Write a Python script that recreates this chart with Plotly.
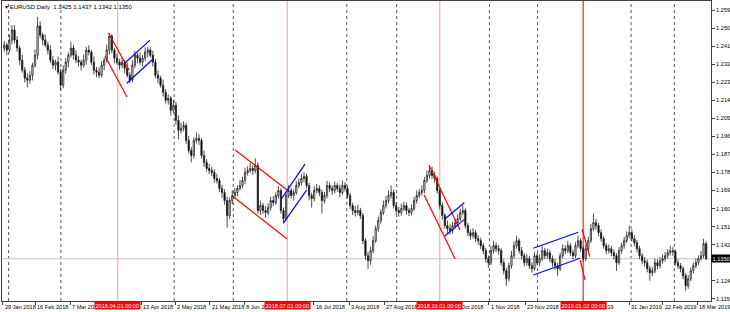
import plotly.graph_objects as go

# ---------------- data (EURUSD, Daily) ----------------
opens = [1.2400, 1.2415, 1.2390, 1.2440, 1.2490, 1.2440, 1.2400, 1.2340, 1.2290, 1.2250,
         1.2240, 1.2265, 1.2315, 1.2365, 1.2510, 1.2465, 1.2440, 1.2415, 1.2390, 1.2340,
         1.2315, 1.2330, 1.2280, 1.2215, 1.2290, 1.2330, 1.2365, 1.2400, 1.2365, 1.2340,
         1.2330, 1.2315, 1.2340, 1.2390, 1.2380, 1.2330, 1.2290, 1.2280, 1.2265, 1.2315,
         1.2340, 1.2390, 1.2460, 1.2390, 1.2350, 1.2330, 1.2315, 1.2330, 1.2300, 1.2265,
         1.2240, 1.2315, 1.2365, 1.2350, 1.2330, 1.2350, 1.2380, 1.2390, 1.2365, 1.2330,
         1.2265, 1.2250, 1.2215, 1.2180, 1.2140, 1.2150, 1.2090, 1.2115, 1.2040, 1.1990,
         1.2000, 1.2015, 1.1940, 1.1890, 1.1865, 1.1940, 1.1950, 1.1940, 1.1865, 1.1830,
         1.1800, 1.1790, 1.1780, 1.1750, 1.1740, 1.1700, 1.1680, 1.1640, 1.1565, 1.1640,
         1.1665, 1.1680, 1.1700, 1.1715, 1.1740, 1.1780, 1.1790, 1.1800, 1.1790, 1.1815,
         1.1590, 1.1615, 1.1590, 1.1580, 1.1605, 1.1640, 1.1630, 1.1665, 1.1690, 1.1590,
         1.1550, 1.1665, 1.1690, 1.1665, 1.1680, 1.1715, 1.1730, 1.1750, 1.1760, 1.1715,
         1.1665, 1.1650, 1.1690, 1.1700, 1.1680, 1.1640, 1.1665, 1.1715, 1.1700, 1.1690,
         1.1715, 1.1700, 1.1680, 1.1715, 1.1700, 1.1665, 1.1615, 1.1590, 1.1580, 1.1590,
         1.1565, 1.1440, 1.1365, 1.1340, 1.1390, 1.1440, 1.1500, 1.1540, 1.1580, 1.1615,
         1.1640, 1.1665, 1.1680, 1.1615, 1.1590, 1.1580, 1.1600, 1.1615, 1.1590, 1.1580,
         1.1600, 1.1640, 1.1665, 1.1680, 1.1690, 1.1740, 1.1765, 1.1790, 1.1765, 1.1750,
         1.1690, 1.1615, 1.1565, 1.1515, 1.1500, 1.1490, 1.1515, 1.1530, 1.1550, 1.1580,
         1.1590, 1.1515, 1.1480, 1.1465, 1.1480, 1.1450, 1.1440, 1.1415, 1.1390, 1.1350,
         1.1330, 1.1390, 1.1415, 1.1400, 1.1390, 1.1330, 1.1290, 1.1250, 1.1315, 1.1365,
         1.1415, 1.1440, 1.1390, 1.1365, 1.1330, 1.1350, 1.1315, 1.1300, 1.1365, 1.1330,
         1.1350, 1.1390, 1.1365, 1.1380, 1.1350, 1.1330, 1.1315, 1.1300, 1.1365, 1.1400,
         1.1390, 1.1415, 1.1380, 1.1365, 1.1415, 1.1440, 1.1400, 1.1350, 1.1400, 1.1440,
         1.1500, 1.1530, 1.1515, 1.1480, 1.1450, 1.1415, 1.1390, 1.1400, 1.1380, 1.1365,
         1.1330, 1.1390, 1.1415, 1.1440, 1.1465, 1.1480, 1.1450, 1.1430, 1.1400, 1.1365,
         1.1340, 1.1330, 1.1300, 1.1280, 1.1290, 1.1330, 1.1315, 1.1340, 1.1350, 1.1365,
         1.1380, 1.1390, 1.1385, 1.1330, 1.1315, 1.1300, 1.1265, 1.1215, 1.1250, 1.1290,
         1.1315, 1.1330, 1.1350, 1.1365, 1.1425]

highs = [1.2435, 1.2427, 1.2468, 1.2515, 1.2514, 1.2460, 1.2412, 1.2368, 1.2306, 1.2274,
         1.2285, 1.2327, 1.2393, 1.2555, 1.2534, 1.2477, 1.2468, 1.2431, 1.2414, 1.2360,
         1.2342, 1.2358, 1.2296, 1.2314, 1.2350, 1.2377, 1.2430, 1.2416, 1.2389, 1.2360,
         1.2342, 1.2368, 1.2406, 1.2414, 1.2392, 1.2358, 1.2306, 1.2304, 1.2335, 1.2352,
         1.2418, 1.2475, 1.2470, 1.2402, 1.2372, 1.2346, 1.2350, 1.2342, 1.2328, 1.2281,
         1.2339, 1.2385, 1.2377, 1.2378, 1.2366, 1.2404, 1.2405, 1.2402, 1.2387, 1.2346,
         1.2289, 1.2262, 1.2243, 1.2196, 1.2170, 1.2162, 1.2143, 1.2131, 1.2064, 1.2028,
         1.2035, 1.2027, 1.1962, 1.1906, 1.1954, 1.1980, 1.1972, 1.1952, 1.1889, 1.1846,
         1.1822, 1.1808, 1.1796, 1.1774, 1.1752, 1.1718, 1.1696, 1.1660, 1.1655, 1.1690,
         1.1702, 1.1716, 1.1743, 1.1758, 1.1802, 1.1812, 1.1828, 1.1816, 1.1850, 1.1830,
         1.1640, 1.1628, 1.1612, 1.1625, 1.1658, 1.1662, 1.1681, 1.1712, 1.1702, 1.1605,
         1.1680, 1.1718, 1.1704, 1.1696, 1.1737, 1.1750, 1.1772, 1.1780, 1.1774, 1.1728,
         1.1680, 1.1712, 1.1722, 1.1716, 1.1694, 1.1684, 1.1738, 1.1730, 1.1716, 1.1734,
         1.1728, 1.1720, 1.1740, 1.1732, 1.1714, 1.1678, 1.1630, 1.1612, 1.1618, 1.1604,
         1.1578, 1.1452, 1.1384, 1.1410, 1.1462, 1.1516, 1.1560, 1.1596, 1.1640, 1.1662,
         1.1690, 1.1715, 1.1694, 1.1632, 1.1608, 1.1624, 1.1634, 1.1630, 1.1604, 1.1620,
         1.1658, 1.1690, 1.1698, 1.1715, 1.1758, 1.1790, 1.1815, 1.1808, 1.1784, 1.1762,
         1.1702, 1.1630, 1.1578, 1.1540, 1.1522, 1.1534, 1.1548, 1.1572, 1.1598, 1.1615,
         1.1602, 1.1528, 1.1496, 1.1502, 1.1494, 1.1468, 1.1455, 1.1428, 1.1404, 1.1366,
         1.1412, 1.1440, 1.1432, 1.1418, 1.1402, 1.1346, 1.1305, 1.1330, 1.1388, 1.1436,
         1.1465, 1.1452, 1.1408, 1.1380, 1.1372, 1.1364, 1.1332, 1.1384, 1.1378, 1.1370,
         1.1412, 1.1404, 1.1400, 1.1394, 1.1366, 1.1348, 1.1330, 1.1380, 1.1422, 1.1416,
         1.1438, 1.1428, 1.1394, 1.1432, 1.1465, 1.1452, 1.1412, 1.1418, 1.1458, 1.1524,
         1.1575, 1.1548, 1.1528, 1.1496, 1.1462, 1.1428, 1.1420, 1.1414, 1.1396, 1.1378,
         1.1408, 1.1430, 1.1458, 1.1486, 1.1515, 1.1496, 1.1468, 1.1444, 1.1414, 1.1378,
         1.1358, 1.1346, 1.1315, 1.1308, 1.1350, 1.1348, 1.1358, 1.1372, 1.1384, 1.1398,
         1.1415, 1.1408, 1.1396, 1.1348, 1.1328, 1.1312, 1.1278, 1.1268, 1.1306, 1.1332,
         1.1352, 1.1366, 1.1388, 1.1450, 1.1437]

lows = [1.2382, 1.2364, 1.2378, 1.2418, 1.2425, 1.2382, 1.2314, 1.2278, 1.2228, 1.2205,
        1.2222, 1.2239, 1.2303, 1.2343, 1.2450, 1.2414, 1.2403, 1.2368, 1.2325, 1.2297,
        1.2289, 1.2268, 1.2190, 1.2200, 1.2272, 1.2304, 1.2353, 1.2343, 1.2325, 1.2308,
        1.2289, 1.2303, 1.2318, 1.2364, 1.2315, 1.2268, 1.2254, 1.2250, 1.2253, 1.2289,
        1.2328, 1.2368, 1.2375, 1.2324, 1.2318, 1.2293, 1.2300, 1.2274, 1.2253, 1.2225,
        1.2230, 1.2300, 1.2324, 1.2318, 1.2308, 1.2335, 1.2354, 1.2353, 1.2308, 1.2250,
        1.2224, 1.2203, 1.2158, 1.2125, 1.2118, 1.2064, 1.2078, 1.2018, 1.1945, 1.1975,
        1.1985, 1.1922, 1.1874, 1.1830, 1.1850, 1.1925, 1.1918, 1.1850, 1.1808, 1.1785,
        1.1772, 1.1762, 1.1728, 1.1725, 1.1682, 1.1654, 1.1620, 1.1505, 1.1548, 1.1622,
        1.1650, 1.1662, 1.1688, 1.1700, 1.1722, 1.1765, 1.1778, 1.1768, 1.1775, 1.1575,
        1.1568, 1.1572, 1.1556, 1.1566, 1.1590, 1.1612, 1.1618, 1.1650, 1.1574, 1.1530,
        1.1540, 1.1652, 1.1648, 1.1640, 1.1668, 1.1702, 1.1715, 1.1732, 1.1700, 1.1640,
        1.1605, 1.1636, 1.1675, 1.1662, 1.1575, 1.1625, 1.1650, 1.1682, 1.1668, 1.1675,
        1.1684, 1.1656, 1.1668, 1.1685, 1.1650, 1.1598, 1.1568, 1.1560, 1.1566, 1.1548,
        1.1422, 1.1344, 1.1300, 1.1320, 1.1376, 1.1428, 1.1484, 1.1525, 1.1568, 1.1600,
        1.1625, 1.1650, 1.1600, 1.1572, 1.1560, 1.1565, 1.1588, 1.1570, 1.1562, 1.1566,
        1.1588, 1.1625, 1.1652, 1.1666, 1.1675, 1.1726, 1.1750, 1.1748, 1.1730, 1.1675,
        1.1598, 1.1545, 1.1500, 1.1478, 1.1470, 1.1474, 1.1500, 1.1515, 1.1538, 1.1566,
        1.1500, 1.1462, 1.1445, 1.1452, 1.1432, 1.1420, 1.1398, 1.1372, 1.1330, 1.1305,
        1.1318, 1.1375, 1.1382, 1.1370, 1.1315, 1.1272, 1.1215, 1.1236, 1.1300, 1.1350,
        1.1400, 1.1375, 1.1346, 1.1312, 1.1315, 1.1298, 1.1280, 1.1290, 1.1316, 1.1312,
        1.1338, 1.1348, 1.1350, 1.1332, 1.1310, 1.1294, 1.1265, 1.1288, 1.1352, 1.1372,
        1.1378, 1.1364, 1.1348, 1.1352, 1.1402, 1.1385, 1.1335, 1.1338, 1.1388, 1.1428,
        1.1488, 1.1495, 1.1462, 1.1435, 1.1400, 1.1372, 1.1376, 1.1362, 1.1345, 1.1290,
        1.1318, 1.1375, 1.1400, 1.1428, 1.1452, 1.1436, 1.1412, 1.1382, 1.1348, 1.1322,
        1.1310, 1.1282, 1.1240, 1.1262, 1.1276, 1.1298, 1.1302, 1.1325, 1.1336, 1.1352,
        1.1366, 1.1364, 1.1316, 1.1300, 1.1282, 1.1248, 1.1190, 1.1200, 1.1238, 1.1276,
        1.1302, 1.1318, 1.1340, 1.1352, 1.1342]

closes = [1.2415, 1.2390, 1.2440, 1.2490, 1.2440, 1.2400, 1.2340, 1.2290, 1.2250, 1.2240,
          1.2265, 1.2315, 1.2365, 1.2510, 1.2465, 1.2440, 1.2415, 1.2390, 1.2340, 1.2315,
          1.2330, 1.2280, 1.2215, 1.2290, 1.2330, 1.2365, 1.2400, 1.2365, 1.2340, 1.2330,
          1.2315, 1.2340, 1.2390, 1.2380, 1.2330, 1.2290, 1.2280, 1.2265, 1.2315, 1.2340,
          1.2390, 1.2460, 1.2390, 1.2350, 1.2330, 1.2315, 1.2330, 1.2300, 1.2265, 1.2240,
          1.2315, 1.2365, 1.2350, 1.2330, 1.2350, 1.2380, 1.2390, 1.2365, 1.2330, 1.2265,
          1.2250, 1.2215, 1.2180, 1.2140, 1.2150, 1.2090, 1.2115, 1.2040, 1.1990, 1.2000,
          1.2015, 1.1940, 1.1890, 1.1865, 1.1940, 1.1950, 1.1940, 1.1865, 1.1830, 1.1800,
          1.1790, 1.1780, 1.1750, 1.1740, 1.1700, 1.1680, 1.1640, 1.1565, 1.1640, 1.1665,
          1.1680, 1.1700, 1.1715, 1.1740, 1.1780, 1.1790, 1.1800, 1.1790, 1.1815, 1.1590,
          1.1615, 1.1590, 1.1580, 1.1605, 1.1640, 1.1630, 1.1665, 1.1690, 1.1590, 1.1550,
          1.1665, 1.1690, 1.1665, 1.1680, 1.1715, 1.1730, 1.1750, 1.1760, 1.1715, 1.1665,
          1.1650, 1.1690, 1.1700, 1.1680, 1.1640, 1.1665, 1.1715, 1.1700, 1.1690, 1.1715,
          1.1700, 1.1680, 1.1715, 1.1700, 1.1665, 1.1615, 1.1590, 1.1580, 1.1590, 1.1565,
          1.1440, 1.1365, 1.1340, 1.1390, 1.1440, 1.1500, 1.1540, 1.1580, 1.1615, 1.1640,
          1.1665, 1.1680, 1.1615, 1.1590, 1.1580, 1.1600, 1.1615, 1.1590, 1.1580, 1.1600,
          1.1640, 1.1665, 1.1680, 1.1690, 1.1740, 1.1765, 1.1790, 1.1765, 1.1750, 1.1690,
          1.1615, 1.1565, 1.1515, 1.1500, 1.1490, 1.1515, 1.1530, 1.1550, 1.1580, 1.1590,
          1.1515, 1.1480, 1.1465, 1.1480, 1.1450, 1.1440, 1.1415, 1.1390, 1.1350, 1.1330,
          1.1390, 1.1415, 1.1400, 1.1390, 1.1330, 1.1290, 1.1250, 1.1315, 1.1365, 1.1415,
          1.1440, 1.1390, 1.1365, 1.1330, 1.1350, 1.1315, 1.1300, 1.1365, 1.1330, 1.1350,
          1.1390, 1.1365, 1.1380, 1.1350, 1.1330, 1.1315, 1.1300, 1.1365, 1.1400, 1.1390,
          1.1415, 1.1380, 1.1365, 1.1415, 1.1440, 1.1400, 1.1350, 1.1400, 1.1440, 1.1500,
          1.1530, 1.1515, 1.1480, 1.1450, 1.1415, 1.1390, 1.1400, 1.1380, 1.1365, 1.1330,
          1.1390, 1.1415, 1.1440, 1.1465, 1.1480, 1.1450, 1.1430, 1.1400, 1.1365, 1.1340,
          1.1330, 1.1300, 1.1280, 1.1290, 1.1330, 1.1315, 1.1340, 1.1350, 1.1365, 1.1380,
          1.1390, 1.1385, 1.1330, 1.1315, 1.1300, 1.1265, 1.1215, 1.1250, 1.1290, 1.1315,
          1.1330, 1.1350, 1.1365, 1.1425, 1.1350]

bar_index = list(range(len(closes)))

price_ticks = [1.2590, 1.2500, 1.2410, 1.2320, 1.2230, 1.2140, 1.2050, 1.1960,
               1.1870, 1.1780, 1.1690, 1.1600, 1.1510, 1.1420, 1.1240, 1.1150]

date_tick_bars = [-0.6, 12.0, 25.7, 53.4, 66.8, 80.2, 93.6, 120.9, 134.6, 148.4,
                  174.4, 189.2, 203.3, 226.3, 243.9, 257.0, 270.6]
date_tick_text = ["29 Jan 2018", "16 Feb 2018", "7 Mar 2018", "13 Apr 2018", "2 May 2018",
                  "21 May 2018", "8 Jun 2018", "16 Jul 2018", "3 Aug 2018", "27 Aug 2018",
                  "12 Oct 2018", "1 Nov 2018", "23 Nov 2018", "2 Jan 2019", "31 Jan 2019",
                  "22 Feb 2019", "18 Mar 2019"]

month_sep_bars = [1.7, 22.1, 66.3, 89.4, 133.7, 153.2, 189.4, 208.2, 244.7, 261.6]
quarter_sep_bars = [44.3, 110.5, 170.0, 226.0]
quarter_sep_text = ["2018.04.01 00:00", "2018.07.01 00:00", "2018.10.01 00:00", "2019.01.02 00:00"]

# trend lines: (bar0, price0, bar1, price1)
trend_x0 = [40.7, 39.3, 47.1, 47.8, 90.1, 89.4, 108.3, 108.9, 165.8, 163.9, 172.0, 172.0, 206.5, 206.5, 225.6, 224.8]
trend_y0 = [1.2475, 1.2361, 1.2326, 1.2225, 1.1892, 1.1659, 1.1651, 1.1526, 1.1817, 1.1668, 1.1548, 1.1463, 1.1402, 1.1269, 1.1497, 1.1343]
trend_x1 = [48.7, 47.9, 56.9, 57.9, 110.4, 110.4, 117.4, 118.1, 177.9, 176.0, 179.6, 179.6, 224.1, 224.8, 228.6, 226.7]
trend_y1 = [1.2291, 1.2156, 1.2440, 1.2343, 1.1693, 1.1448, 1.1822, 1.1693, 1.1493, 1.1349, 1.1629, 1.1546, 1.1482, 1.1352, 1.1360, 1.1244]
trend_kind = ["r", "r", "b", "b", "r", "r", "b", "b", "r", "r", "b", "b", "b", "b", "r", "r"]

last_o, last_h, last_l, last_c = opens[-1], highs[-1], lows[-1], closes[-1]

# ---------------- figure ----------------
FONT = "Liberation Sans"
fig = go.Figure()
fig.add_trace(go.Candlestick(
    x=bar_index, open=opens, high=highs, low=lows, close=closes,
    increasing=dict(line=dict(color="#1e1e1e", width=0.8), fillcolor="#ffffff"),
    decreasing=dict(line=dict(color="#1e1e1e", width=0.8), fillcolor="#000000"),
    whiskerwidth=0, hoverinfo="skip", showlegend=False,
))

shapes = []
for b in month_sep_bars:
    shapes.append(dict(type="line", xref="x", yref="paper", x0=b, x1=b, y0=0, y1=1,
                       line=dict(color="#555555", width=1, dash="dot"), layer="below"))
for i, b in enumerate(quarter_sep_bars):
    col = "#ff2020" if i == len(quarter_sep_bars) - 1 else "#ffaaaa"
    shapes.append(dict(type="line", xref="x", yref="paper", x0=b, x1=b, y0=0, y1=1,
                       line=dict(color=col, width=1.2), layer="below"))
# current price line
shapes.append(dict(type="line", xref="paper", yref="y", x0=0, x1=1, y0=last_c, y1=last_c,
                   line=dict(color="#c8c8c8", width=1), layer="below"))
for x0, y0, x1, y1, k in zip(trend_x0, trend_y0, trend_x1, trend_y1, trend_kind):
    shapes.append(dict(type="line", xref="x", yref="y", x0=x0, y0=y0, x1=x1, y1=y1,
                       line=dict(color="#ff0000" if k == "r" else "#0000ff", width=1.2)))

annotations = []
for b, t in zip(date_tick_bars, date_tick_text):
    annotations.append(dict(x=b, y=0, xref="x", yref="paper", text=t, showarrow=False,
                            xanchor="left", yanchor="top", xshift=0, yshift=-1,
                            font=dict(family=FONT, size=5.6, color="#000000")))
for b, t in zip(quarter_sep_bars, quarter_sep_text):
    annotations.append(dict(x=b, y=0, xref="x", yref="paper", text=t, showarrow=False,
                            xanchor="center", yanchor="top", yshift=0,
                            bgcolor="#ff0000", borderpad=0.5,
                            font=dict(family=FONT, size=5.6, color="#ffffff")))
annotations.append(dict(x=1, y=last_c, xref="paper", yref="y", text=f"{last_c:.4f}",
                        showarrow=False, xanchor="left", yanchor="middle", xshift=0,
                        bgcolor="#000000", borderpad=0.5,
                        font=dict(family=FONT, size=5.6, color="#ffffff")))
annotations.append(dict(x=0, y=1, xref="paper", yref="paper",
                        text=f"▾ EURUSD,Daily  {last_o:.4f} {last_h:.4f} {last_l:.4f} {last_c:.4f}",
                        showarrow=False, xanchor="left", yanchor="top", xshift=1, yshift=-1,
                        font=dict(family=FONT, size=6, color="#000000")))

fig.update_layout(
    width=730, height=312,
    margin=dict(l=2, r=19, t=1, b=11),
    paper_bgcolor="#ffffff", plot_bgcolor="#ffffff",
    showlegend=False, hovermode=False,
    shapes=shapes, annotations=annotations,
    xaxis=dict(range=[-0.89, 275.9], rangeslider=dict(visible=False),
               showgrid=False, zeroline=False, showline=True, mirror=True,
               linecolor="#404040", linewidth=1,
               tickmode="array", tickvals=date_tick_bars, showticklabels=False,
               ticks="outside", ticklen=3, tickcolor="#404040", automargin=False),
    yaxis=dict(range=[1.11391, 1.26349], side="right",
               showgrid=False, zeroline=False, showline=True, mirror=True,
               linecolor="#404040", linewidth=1,
               tickmode="array", tickvals=price_ticks,
               ticktext=[f"{p:.4f}" for p in price_ticks],
               ticks="outside", ticklen=3, tickcolor="#404040",
               tickfont=dict(family=FONT, size=5.6, color="#000000"),
               automargin=False),
)

fig.write_html("out.html")
